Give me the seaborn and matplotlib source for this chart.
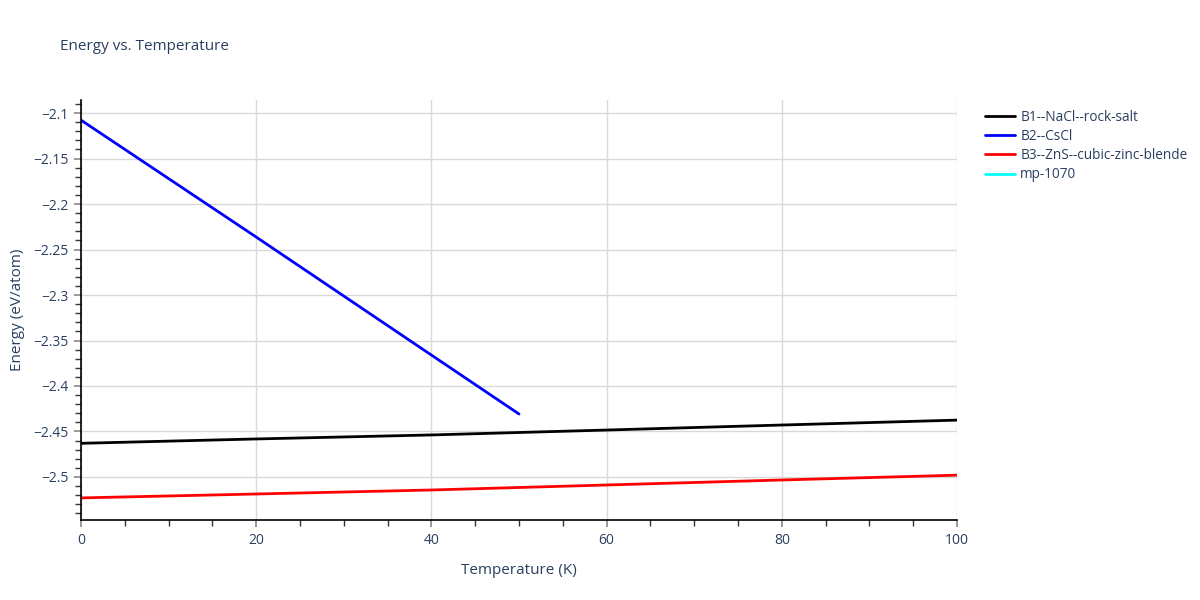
import numpy as np
import pandas as pd
import matplotlib
matplotlib.use("Agg")
import matplotlib.pyplot as plt
import seaborn as sns
from matplotlib.ticker import MultipleLocator
from matplotlib.lines import Line2D

# Data
temp_b1 = [0, 20, 40, 60, 80, 100]
energy_b1 = [-2.4630, -2.4582, -2.4538, -2.4484, -2.4429, -2.4375]
temp_b2 = [0, 20, 40, 50]
energy_b2 = [-2.1078, -2.2363, -2.3660, -2.4308]
temp_b3 = [0, 20, 40, 60, 80, 100]
energy_b3 = [-2.5230, -2.5187, -2.5143, -2.5088, -2.5033, -2.4980]
temp_mp = []
energy_mp = []

series_names = ["B1--NaCl--rock-salt", "B2--CsCl", "B3--ZnS--cubic-zinc-blende", "mp-1070"]
series_colors = ["black", "blue", "red", "cyan"]

frames = []
for name, t, e in zip(series_names,
                      [temp_b1, temp_b2, temp_b3, temp_mp],
                      [energy_b1, energy_b2, energy_b3, energy_mp]):
    frames.append(pd.DataFrame({"Temperature": t, "Energy": e, "Series": [name] * len(t)}))
df = pd.concat(frames, ignore_index=True)

sns.set_style("white")
plt.rcParams['font.family'] = ['Open Sans', 'DejaVu Sans']
text_color = "#2a3f5f"

fig = plt.figure(figsize=(12, 6), dpi=100)
ax = fig.add_axes([0.0675, 0.1333, 0.73, 0.7])

present = [n for n in series_names if (df["Series"] == n).any()]
palette = dict(zip(series_names, series_colors))
sns.lineplot(data=df, x="Temperature", y="Energy", hue="Series",
             hue_order=present, palette=palette, ax=ax, linewidth=2,
             sort=False, estimator=None, legend=False)
# empty series for mp-1070 (no visible data)
ax.plot(temp_mp, energy_mp, color="cyan", linewidth=2)

handles = [Line2D([0], [0], color=c, linewidth=2) for c in series_colors]
leg = fig.legend(handles, series_names, loc="upper left",
                 bbox_to_anchor=(0.811, 0.837), frameon=False,
                 fontsize=9.8, handlelength=2.2, labelspacing=0.3, handletextpad=0.35)
for t in leg.get_texts():
    t.set_color(text_color)

ax.set_xlim(0, 100)
ax.set_ylim(-2.5473, -2.0857)
ax.xaxis.set_major_locator(MultipleLocator(20))
ax.xaxis.set_minor_locator(MultipleLocator(5))
ax.yaxis.set_major_locator(MultipleLocator(0.05))
ax.yaxis.set_minor_locator(MultipleLocator(0.01))

def fmt(v, pos=None):
    s = f"{v:.2f}".rstrip("0").rstrip(".")
    return s.replace("-", "\u2212")
ax.yaxis.set_major_formatter(plt.FuncFormatter(fmt))
ax.xaxis.set_major_formatter(plt.FuncFormatter(lambda v, p: f"{v:g}"))

ax.grid(True, which="major", color="#d9d9d9", linewidth=1)
ax.set_axisbelow(True)
for s in ["top", "right"]:
    ax.spines[s].set_visible(False)
for s in ["left", "bottom"]:
    ax.spines[s].set_color("black")
    ax.spines[s].set_linewidth(1.2)

ax.tick_params(axis="both", which="major", direction="out", length=5, width=1.2,
               color="#888888", labelsize=10, labelcolor=text_color, pad=4)
ax.tick_params(axis="both", which="minor", direction="out", length=4, width=1,
               color="#333333")
ax.tick_params(axis="both", which="both", bottom=True, left=True)

ax.set_xlabel("Temperature (K)", fontsize=11, color=text_color, labelpad=11)
ax.set_ylabel("Energy (eV/atom)", fontsize=11, color=text_color, labelpad=6)

fig.text(0.05, 0.922, "Energy vs. Temperature", fontsize=11, color=text_color,
         ha="left", va="center")

fig.savefig("out.png", dpi=100)
